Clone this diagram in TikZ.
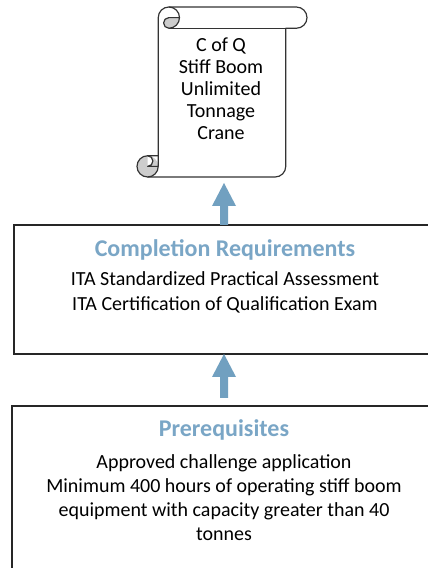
\documentclass[tikz,border=0pt]{standalone}
\usepackage{fontspec}
\setmainfont{Carlito}
\usetikzlibrary{calc}
\definecolor{arrowblue}{RGB}{113,160,192}
\definecolor{headblue}{RGB}{122,166,198}
\definecolor{curlgray}{RGB}{205,205,205}
\tikzset{
  framebox/.style={draw=black!85, line width=1.1pt, rectangle, inner sep=0pt},
  headtext/.style={font=\fontsize{18}{22}\selectfont\bfseries, text=headblue, inner sep=0pt},
  bodytext/.style={font=\fontsize{15}{18.3}\selectfont, align=center, inner sep=0pt},
  scrolltxt/.style={font=\fontsize{15}{16.5}\selectfont, align=center, inner sep=0pt},
  scrollline/.style={draw=black!80, line width=0.9pt, line join=round},
  blockarrow/.style={fill=arrowblue}
}
\newcommand{\uparrowshape}[2]{%
  \fill[blockarrow] ($(#1)+(-4,0)$) -- ($(#2)+(-4,-23)$) -- ($(#2)+(-12,-23)$) -- (#2)
    -- ($(#2)+(12,-23)$) -- ($(#2)+(4,-23)$) -- ($(#1)+(4,0)$) -- cycle;}
\begin{document}
\begin{tikzpicture}[x=0.75pt,y=0.75pt]
\useasboundingbox (0,0) rectangle (428,568);
\clip (0,0) rectangle (428,568);
\fill[white] (0,0) rectangle (428,568);

% ---- scroll ----
% top curl shading
\fill[curlgray] (179.5,550.375) arc[start angle=0,end angle=-90,radius=10.625]
   arc[start angle=-90,end angle=-270,radius=5.3125] -- cycle;
% bottom curl shading
\fill[curlgray] (147.625,401.625) circle[radius=10.625];
\fill[white] (147.625,412.25) arc[start angle=90,end angle=-90,radius=5.3125] -- cycle;
% main outline
\draw[scrollline] (158.25,412.25) -- (158.25,550.375)
   arc[start angle=180,end angle=90,radius=10.625] -- (296.375,561)
   arc[start angle=90,end angle=-90,radius=10.625] -- (285.75,539.75)
   -- (285.75,401.625)
   arc[start angle=0,end angle=-90,radius=10.625] -- (147.625,391)
   arc[start angle=-90,end angle=-270,radius=10.625] -- cycle;
% top curl lines
\draw[scrollline] (168.875,561) arc[start angle=90,end angle=-90,radius=10.625]
   arc[start angle=-90,end angle=-270,radius=5.3125] -- (179.5,550.375);
\draw[scrollline] (168.875,539.75) -- (285.75,539.75);
% bottom curl lines
\draw[scrollline] (147.625,391) arc[start angle=-90,end angle=0,radius=10.625];
\draw[scrollline] (147.625,412.25) arc[start angle=90,end angle=-90,radius=5.3125] -- (158.25,401.625) -- (158.25,412.25);

\node[scrolltxt] (scroll) at (221,479.5) {C of Q\\Stiff Boom\\Unlimited\\Tonnage\\Crane};

% ---- boxes ----
\node[framebox, minimum width=316.5pt, minimum height=96.75pt] (comp) at (225,278.5) {};
\node[headtext] (comphead) at (225,318) {Completion Requirements};
\node[bodytext] (compbody) at (225,275.5) {ITA Standardized Practical Assessment\\ITA Certification of Qualification Exam};

\node[framebox, minimum width=317.25pt, minimum height=130.5pt] (prereq) at (223.5,75) {};
\node[headtext] (prehead) at (224,138) {Prerequisites};
\node[bodytext, font=\fontsize{15}{18}\selectfont] (prebody) at (224,70) {Approved challenge application\\Minimum 400 hours of operating stiff boom\\equipment with capacity greater than 40\\tonnes};

% ---- arrows ----
\coordinate (a1base) at (224,343);
\coordinate (a1tip) at (224,385);
\coordinate (a2base) at (224,170);
\coordinate (a2tip) at (224,214);
\uparrowshape{a1base}{a1tip}
\uparrowshape{a2base}{a2tip}
\end{tikzpicture}
\end{document}
